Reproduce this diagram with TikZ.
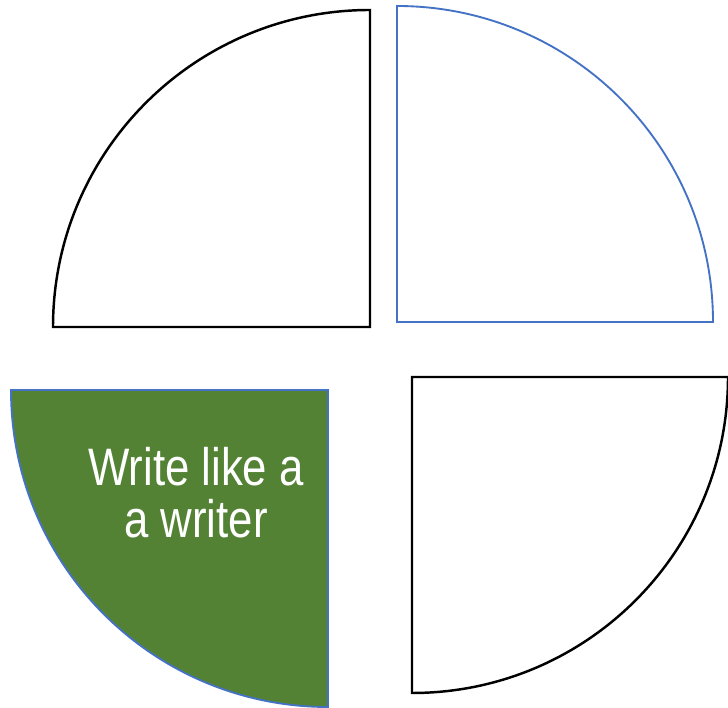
\documentclass[tikz,border=0pt]{standalone}
\usepackage{fontspec}
\usepackage{xcolor}
\usetikzlibrary{positioning}
\newfontfamily\LabelFont[FakeStretch=0.83]{Liberation Sans}
\definecolor{QuarterInk}{HTML}{000000}
\definecolor{QuarterBlue}{HTML}{4472C4}
\definecolor{QuarterGreen}{HTML}{548235}

\begin{document}
\begin{tikzpicture}[
  x=0.03cm,y=0.03cm,
  quarter/.style={draw=QuarterInk,line width=2.1pt,line join=miter,fill=white},
  bluequarter/.style={quarter,draw=QuarterBlue,line width=1.6pt},
  greenquarter/.style={bluequarter,fill=QuarterGreen},
]
  \useasboundingbox (0,0) rectangle (728,708);

  % top left
  \draw[quarter] (370,381) -- (53,381) arc[start angle=180,end angle=90,radius=317] -- cycle;
  % top right
  \draw[bluequarter] (397,386) -- (397,702) arc[start angle=90,end angle=0,radius=316] -- cycle;
  % bottom left
  \draw[greenquarter] (328,318) -- (11,318) arc[start angle=180,end angle=270,radius=317] -- cycle;
  % bottom right
  \draw[quarter] (412,331) -- (728,331) arc[start angle=0,end angle=-90,radius=316] -- cycle;

  \node[text=white,align=center,anchor=base,inner sep=0pt,
        font=\LabelFont\fontsize{45}{45}\selectfont] (label) at (196,170)
    {Write like a\\a writer};
\end{tikzpicture}
\end{document}
